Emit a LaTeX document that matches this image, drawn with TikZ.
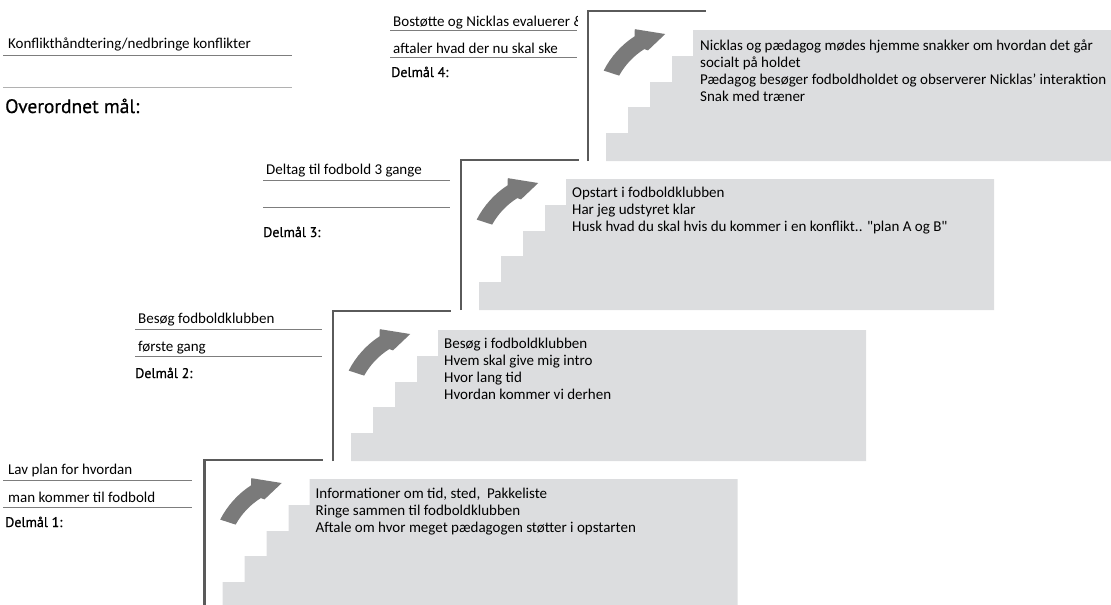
\documentclass[tikz,border=0pt]{standalone}
\usepackage{fontspec}
\setmainfont{Carlito}
\newfontfamily\dinfont[FakeBold=0.6]{PT Sans}
\usetikzlibrary{calc}

\definecolor{stepgray}{RGB}{220,221,223}
\definecolor{framegray}{RGB}{90,90,90}
\definecolor{arrowgray}{RGB}{122,122,122}
\definecolor{rulegray}{RGB}{125,125,125}

\begin{document}
\begin{tikzpicture}
    [   x = 1pt, y = -1pt
    ,   boxtext/.style = {inner sep = 0pt, anchor = north west, align = left,
                          font = \fontsize{15}{17}\selectfont}
    ,   goaltext/.style = {inner sep = 0pt, anchor = base west,
                           font = \fontsize{15}{17}\selectfont}
    ,   goalhead/.style = {inner sep = 0pt, anchor = base west,
                           font = \dinfont\fontsize{14}{16}\selectfont}
    ,   goalrule/.style = {rulegray, line width = 0.9pt}
    ,   frameline/.style = {framegray, line width = 2.6pt}
    ]
    \useasboundingbox (0,0) rectangle (1111,605);
    \clip (0,0) rectangle (1111,605);

    % the four stairs, each with its frame and arrow
    \foreach\n/\bx/\by in {1/204.5/460,2/333/311,3/461/160,4/588/11}
    {
        \begin{scope}[shift = {(\bx,\by)}]
            \coordinate (blk\n) at (0,0);
            \fill[stepgray] (105,19) -- (533,19) -- (533,150) -- (18,150)
                -- (18,122) -- (40,122) -- (40,96) -- (62,96) -- (62,71)
                -- (84,71) -- (84,45) -- (105,45) -- cycle;
            \draw[frameline] (0,150) -- (0,0) -- (118,0);
            \coordinate (mid\n) at (95,100);
            \fill[arrowgray] (mid\n) ++(207:89) arc[start angle = 207, end angle = 237, radius = 89]
                -- ($(mid\n)+(239.5:95)$) -- ($(mid\n)+(257:79)$) -- ($(mid\n)+(240:70)$)
                -- ($(mid\n)+(238:73)$) arc[start angle = 238, end angle = 209, radius = 73]
                -- cycle;
        \end{scope}
    }

    \node[boxtext] (info1) at ([shift = {(111,28)}]blk1)
        {Informationer om tid, sted,~ Pakkeliste\\Ringe sammen til fodboldklubben\\
         Aftale om hvor meget pædagogen støtter i opstarten};
    \node[boxtext] (info2) at ([shift = {(111,27)}]blk2)
        {Besøg i fodboldklubben\\Hvem skal give mig intro\\Hvor lang tid\\Hvordan kommer vi derhen};
    \node[boxtext] (info3) at ([shift = {(111,27)}]blk3)
        {Opstart i fodboldklubben\\Har jeg udstyret klar\\
         Husk hvad du skal hvis du kommer i en konflikt.. \textquotedbl plan A og B\textquotedbl};
    \node[boxtext] (info4) at ([shift = {(112,29)}]blk4)
        {Nicklas og pædagog mødes hjemme snakker om hvordan det går\\socialt på holdet\\
         Pædagog besøger fodboldholdet og observerer Nicklas’ interaktion\\Snak med træner};

    % overall goal
    \node[goaltext] (goaltop) at (8,48) {Konflikthåndtering/nedbringe konflikter};
    \draw[goalrule] (3,55) -- (292,55);
    \draw[goalrule, rulegray!60] (3,87) -- (292,87);
    \node[goalhead, font = \dinfont\fontsize{19.5}{21}\selectfont] (overall) at (5,113) {Overordnet mål:};

    % sub goal 4
    \begin{scope}
        \clip (385,0) rectangle (577,40);
        \node[goaltext] (goal4a) at (393,27) {Bostøtte og Nicklas evaluerer \&};
    \end{scope}
    \node[goaltext] (goal4b) at (393,53) {aftaler hvad der nu skal ske};
    \draw[goalrule] (390,30) -- (577,30);
    \draw[goalrule] (390,57) -- (577,57);
    \node[goalhead] (delmaal4) at (391,77) {Delmål 4:};

    % sub goal 3
    \node[goaltext] (goal3a) at (266,174) {Deltag til fodbold 3 gange};
    \draw[goalrule] (263,180) -- (450,180);
    \draw[goalrule] (263,207) -- (450,207);
    \node[goalhead] (delmaal3) at (263,237) {Delmål 3:};

    % sub goal 2
    \node[goaltext] (goal2a) at (138,323) {Besøg fodboldklubben};
    \node[goaltext] (goal2b) at (138,351) {første gang};
    \draw[goalrule] (135,329) -- (322,329);
    \draw[goalrule] (135,356) -- (322,356);
    \node[goalhead] (delmaal2) at (135,378) {Delmål 2:};

    % sub goal 1
    \node[goaltext] (goal1a) at (8,474) {Lav plan for hvordan};
    \node[goaltext] (goal1b) at (8,502) {man kommer til fodbold};
    \draw[goalrule] (3,480) -- (192,480);
    \draw[goalrule] (3,507) -- (192,507);
    \node[goalhead] (delmaal1) at (5,527) {Delmål 1:};
\end{tikzpicture}
\end{document}
